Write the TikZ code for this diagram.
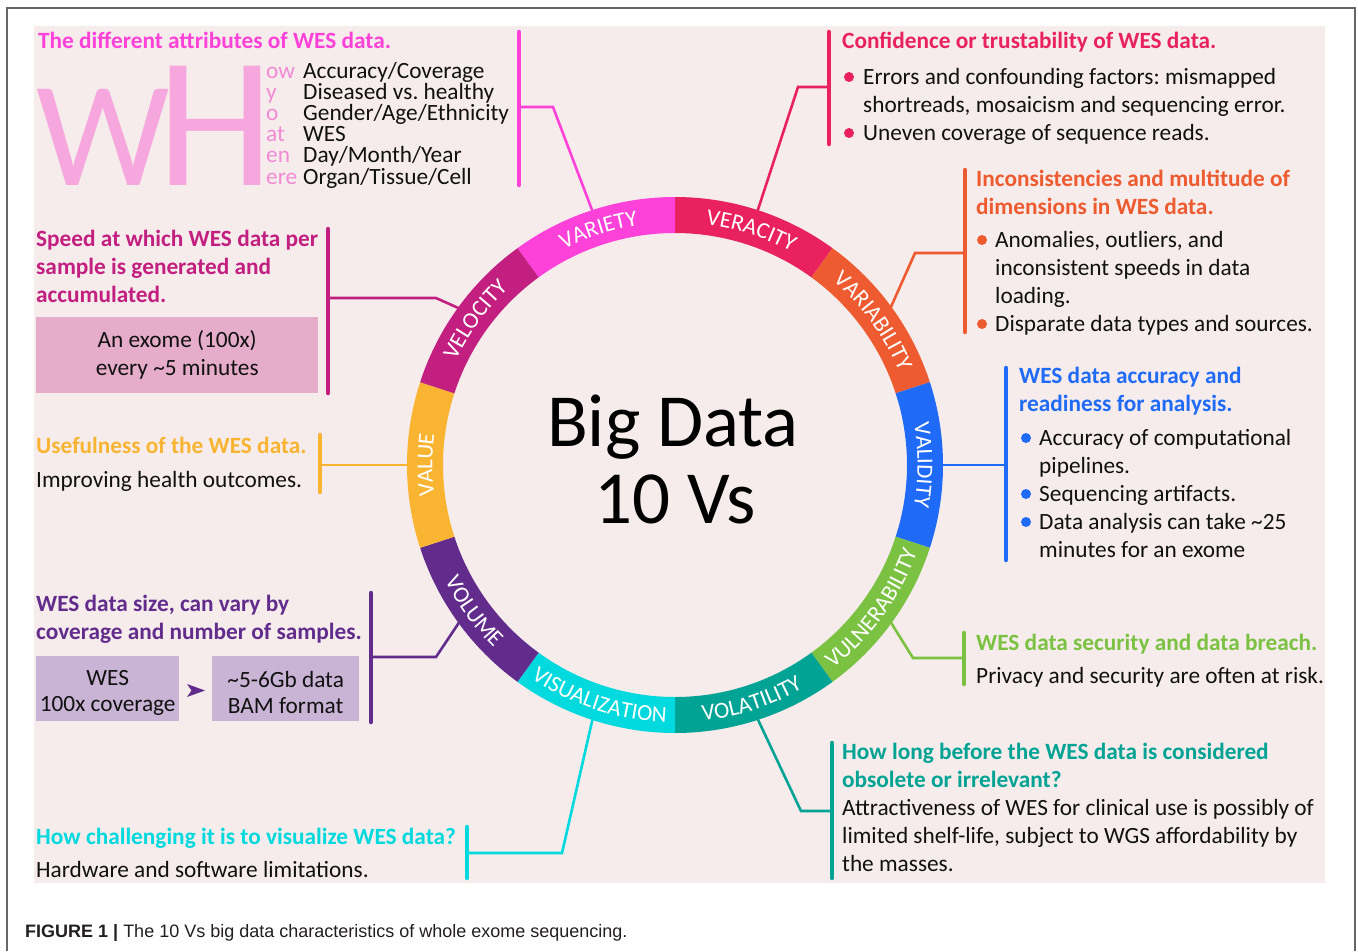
\documentclass[tikz,border=0pt]{standalone}
\usepackage{fontspec}
\setmainfont{Carlito}
\newfontfamily\capfont{Liberation Sans}
\usetikzlibrary{decorations.text}
\frenchspacing
\definecolor{cVariety}{HTML}{FD41D9}
\definecolor{cVeracity}{HTML}{E9225F}
\definecolor{cVariab}{HTML}{EE5B30}
\definecolor{cValidity}{HTML}{1F6BF7}
\definecolor{cVulner}{HTML}{7CC242}
\definecolor{cVolat}{HTML}{00A394}
\definecolor{cVisual}{HTML}{00D9DD}
\definecolor{cVolume}{HTML}{622C8D}
\definecolor{cValue}{HTML}{F9B432}
\definecolor{cVelocity}{HTML}{C21F80}
\definecolor{bgpink}{HTML}{F6ECEB}
\definecolor{whpink}{HTML}{F6A8DE}
\definecolor{whsmall}{HTML}{F28AD6}
\definecolor{velboxc}{HTML}{E6ADCB}
\definecolor{volboxc}{HTML}{C9B4D5}
\definecolor{framegray}{HTML}{666666}
\definecolor{capgray}{HTML}{231F20}
\definecolor{txt}{HTML}{111111}
\newcommand\ringfont{\color{white}\fontsize{23}{23}\selectfont}
\tikzset{
  body/.style={font=\fontsize{23.3}{28}\selectfont, anchor=base west, inner sep=0pt, text width=620pt, align=flush left, text=txt},
  ttl/.style={body, font=\fontsize{23.3}{28}\selectfont\bfseries},
  bar/.style={line width=4.5pt, line cap=round},
  conn/.style={line width=2.6pt},
  dot/.style={circle, fill, inner sep=0pt, minimum size=10pt},
  infobox/.style={anchor=north west, inner sep=0pt, align=center, text=txt, font=\fontsize{23.3}{26}\selectfont},
}
\begin{document}
\begin{tikzpicture}[x=1pt, y=-1pt]
\useasboundingbox (0,0) rectangle (1358,951);
\fill[white] (0,0) rectangle (1358,951);
% frame
\draw[framegray, line width=1.5pt] (7,951) -- (7,8) -- (1355,8) -- (1355,951);
% pink panel
\fill[bgpink] (34,26) rectangle (1325,883);

% ---------- ring ----------
\begin{scope}[shift={(675,465)}, y=1pt]
  \foreach \a/\c in {108/cVariety, 72/cVeracity, 36/cVariab, 0/cValidity, -36/cVulner, -72/cVolat, -108/cVisual, -144/cVolume, 180/cValue, 144/cVelocity}{
    \fill[\c] (\a-18:268) arc[start angle=\a-18, end angle=\a+18, radius=268]
      -- (\a+18:232) arc[start angle=\a+18, end angle=\a-18, radius=232] -- cycle;
  }
  % clockwise labels (tops outward)
  \path[decorate, decoration={text along path, text align=center, text={|\ringfont|VALUE}}] (198:242.6) arc[start angle=198, end angle=162, radius=242.6];
  \path[decorate, decoration={text along path, text align=center, text={|\ringfont|VELOCITY}}] (162:242.6) arc[start angle=162, end angle=126, radius=242.6];
  \path[decorate, decoration={text along path, text align=center, text={|\ringfont|VARIETY}}] (126:242.6) arc[start angle=126, end angle=90, radius=242.6];
  \path[decorate, decoration={text along path, text align=center, text={|\ringfont|VERACITY}}] (90:242.6) arc[start angle=90, end angle=54, radius=242.6];
  \path[decorate, decoration={text along path, text align=center, text={|\ringfont|VARIABILITY}}] (54:242.6) arc[start angle=54, end angle=18, radius=242.6];
  \path[decorate, decoration={text along path, text align=center, text={|\ringfont|VALIDITY}}] (18:242.6) arc[start angle=18, end angle=-18, radius=242.6];
  % counter-clockwise labels (tops inward)
  \path[decorate, decoration={text along path, text align=center, text={|\ringfont|VULNERABILITY}}] (-54:257.4) arc[start angle=-54, end angle=-18, radius=257.4];
  \path[decorate, decoration={text along path, text align=center, text={|\ringfont|VOLATILITY}}] (-90:257.4) arc[start angle=-90, end angle=-54, radius=257.4];
  \path[decorate, decoration={text along path, text align=center, text={|\ringfont|VISUALIZATION}}] (-126:257.4) arc[start angle=-126, end angle=-90, radius=257.4];
  \path[decorate, decoration={text along path, text align=center, text={|\ringfont|VOLUME}}] (-162:257.4) arc[start angle=-162, end angle=-126, radius=257.4];
  % ring anchor points
  \coordinate (rVariety) at (108:266);
  \coordinate (rVeracity) at (72:266);
  \coordinate (rVariab) at (36:266);
  \coordinate (rValidity) at (0:266);
  \coordinate (rVulner) at (-36:266);
  \coordinate (rVolat) at (-72:266);
  \coordinate (rVisual) at (-108:266);
  \coordinate (rVolume) at (-144:266);
  \coordinate (rValue) at (180:266);
  \coordinate (rVelocity) at (144:266);
\end{scope}

% center text
\node[font=\fontsize{75}{77}\selectfont, anchor=base, inner sep=0pt, text=black] (big) at (673,446) {Big Data};
\node[font=\fontsize{75}{77}\selectfont, anchor=base, inner sep=0pt, text=black] (ten) at (675,523) {10 Vs};

% ---------- VARIETY ----------
\node[ttl, text=cVariety] (tVariety) at (38,48) {The different attributes of WES data.};
\node[anchor=base west, inner sep=0pt, font=\fontsize{150}{150}\selectfont, text=whpink] (W) at (36,185) {W};
\node[anchor=base west, inner sep=0pt, font=\fontsize{186}{186}\selectfont, text=whpink] (H) at (157,185) {H};
\node[anchor=base west, inner sep=0pt, text width=36pt, align=flush left, font=\fontsize{23.3}{21.2}\selectfont, text=whsmall] (whs) at (266,78) {ow\\y\\o\\at\\en\\ere};
\node[anchor=base west, inner sep=0pt, text width=210pt, align=flush left, font=\fontsize{23.3}{21.2}\selectfont, text=txt] (whl) at (303,78) {Accuracy/Coverage\\Diseased vs. healthy\\Gender/Age/Ethnicity\\WES\\Day/Month/Year\\Organ/Tissue/Cell};
\coordinate (varA) at (519,32); \coordinate (varB) at (519,185); \coordinate (varM) at (519,107);
\draw[bar, cVariety] (varA) -- (varB);
\draw[conn, cVariety] (varM) -- (553,107) -- (rVariety);

% ---------- VERACITY ----------
\node[ttl, text=cVeracity] (tVeracity) at (842,48) {Confidence or trustability of WES data.};
\node[body] (bVeracity) at (863,84) {Errors and confounding factors: mismapped\\shortreads, mosaicism and sequencing error.\\Uneven coverage of sequence reads.};
\node[dot, cVeracity] (dVer1) at (849,77) {};
\node[dot, cVeracity] (dVer2) at (849,133) {};
\coordinate (verA) at (829,32); \coordinate (verB) at (829,144); \coordinate (verM) at (829,87);
\draw[bar, cVeracity] (verA) -- (verB);
\draw[conn, cVeracity] (verM) -- (798,87) -- (rVeracity);

% ---------- VARIABILITY ----------
\node[ttl, text=cVariab] (tVariab) at (976,186) {Inconsistencies and multitude of\\dimensions in WES data.};
\node[body] (bVariab) at (995,247) {Anomalies, outliers, and\\inconsistent speeds in data\\loading.\\Disparate data types and sources.};
\node[dot, cVariab] (dVa1) at (982,240) {};
\node[dot, cVariab] (dVa2) at (982,324) {};
\coordinate (vabA) at (965,170); \coordinate (vabB) at (965,332); \coordinate (vabM) at (965,253);
\draw[bar, cVariab] (vabA) -- (vabB);
\draw[conn, cVariab] (vabM) -- (915,253) -- (rVariab);

% ---------- VALIDITY ----------
\node[ttl, text=cValidity] (tValidity) at (1019,383) {WES data accuracy and\\readiness for analysis.};
\node[body] (bValidity) at (1039,445) {Accuracy of computational\\pipelines.\\Sequencing artifacts.\\Data analysis can take \textasciitilde25\\minutes for an exome};
\node[dot, cValidity] (dVl1) at (1026,438) {};
\node[dot, cValidity] (dVl2) at (1026,494) {};
\node[dot, cValidity] (dVl3) at (1026,522) {};
\coordinate (valA) at (1006,368); \coordinate (valB) at (1006,560); \coordinate (valM) at (1006,465);
\draw[bar, cValidity] (valA) -- (valB);
\draw[conn, cValidity] (valM) -- (rValidity);

% ---------- VULNERABILITY ----------
\node[ttl, text=cVulner] (tVulner) at (976,650) {WES data security and data breach.};
\node[body] (bVulner) at (976,683) {Privacy and security are often at risk.};
\coordinate (vulA) at (964,633); \coordinate (vulB) at (964,684); \coordinate (vulM) at (964,658);
\draw[bar, cVulner] (vulA) -- (vulB);
\draw[conn, cVulner] (vulM) -- (913,658) -- (rVulner);

% ---------- VOLATILITY ----------
\node[ttl, text=cVolat] (tVolat) at (842,759) {How long before the WES data is considered\\obsolete or irrelevant?};
\node[body] (bVolat) at (842,815) {Attractiveness of WES for clinical use is possibly of\\limited shelf-life, subject to WGS affordability by\\the masses.};
\coordinate (volA) at (832,743); \coordinate (volB) at (832,878); \coordinate (volM) at (832,811);
\draw[bar, cVolat] (volA) -- (volB);
\draw[conn, cVolat] (volM) -- (801,811) -- (rVolat);

% ---------- VISUALIZATION ----------
\node[ttl, text=cVisual] (tVisual) at (36,844) {How challenging it is to visualize WES data?};
\node[body] (bVisual) at (36,877) {Hardware and software limitations.};
\coordinate (visA) at (467,827); \coordinate (visB) at (467,878); \coordinate (visM) at (467,853);
\draw[bar, cVisual] (visA) -- (visB);
\draw[conn, cVisual] (visM) -- (562,853) -- (rVisual);

% ---------- VOLUME ----------
\node[ttl, text=cVolume] (tVolume) at (36,611) {WES data size, can vary by\\coverage and number of samples.};
\node[infobox, fill=volboxc, minimum width=143pt, minimum height=65pt] (boxA) at (36,656) {\rule{0pt}{23pt}WES\\100x coverage};
\node[infobox, fill=volboxc, minimum width=147pt, minimum height=65pt] (boxB) at (212,656) {\rule{0pt}{23pt}\textasciitilde5-6Gb data\\BAM format};
\fill[cVolume] (187,684) -- (205,690.5) -- (187,697) -- (191.5,690.5) -- cycle;
\coordinate (vmA) at (371,593); \coordinate (vmB) at (371,722); \coordinate (vmM) at (371,657);
\draw[bar, cVolume] (vmA) -- (vmB);
\draw[conn, cVolume] (vmM) -- (436,657) -- (rVolume);

% ---------- VALUE ----------
\node[ttl, text=cValue] (tValue) at (36,453) {Usefulness of the WES data.};
\node[body] (bValue) at (36,487) {Improving health outcomes.};
\coordinate (vuA) at (320,435); \coordinate (vuB) at (320,492); \coordinate (vuM) at (320,465);
\draw[bar, cValue] (vuA) -- (vuB);
\draw[conn, cValue] (vuM) -- (rValue);

% ---------- VELOCITY ----------
\node[ttl, text=cVelocity] (tVelocity) at (36,246) {Speed at which WES data per\\sample is generated and\\accumulated.};
\node[infobox, fill=velboxc, minimum width=282pt, minimum height=76pt, font=\fontsize{23.3}{28}\selectfont] (boxV) at (36,317) {An exome (100x)\\every \textasciitilde5 minutes};
\coordinate (veA) at (328,229); \coordinate (veB) at (328,393); \coordinate (veM) at (328,298);
\draw[bar, cVelocity] (veA) -- (veB);
\draw[conn, cVelocity] (veM) -- (436,298) -- (rVelocity);

% caption
\node[anchor=base west, inner sep=0pt, font=\capfont\fontsize{18}{20}\selectfont, text=capgray] (cap) at (25,937) {\textbf{FIGURE 1 |} The 10 Vs big data characteristics of whole exome sequencing.};
\end{tikzpicture}
\end{document}
